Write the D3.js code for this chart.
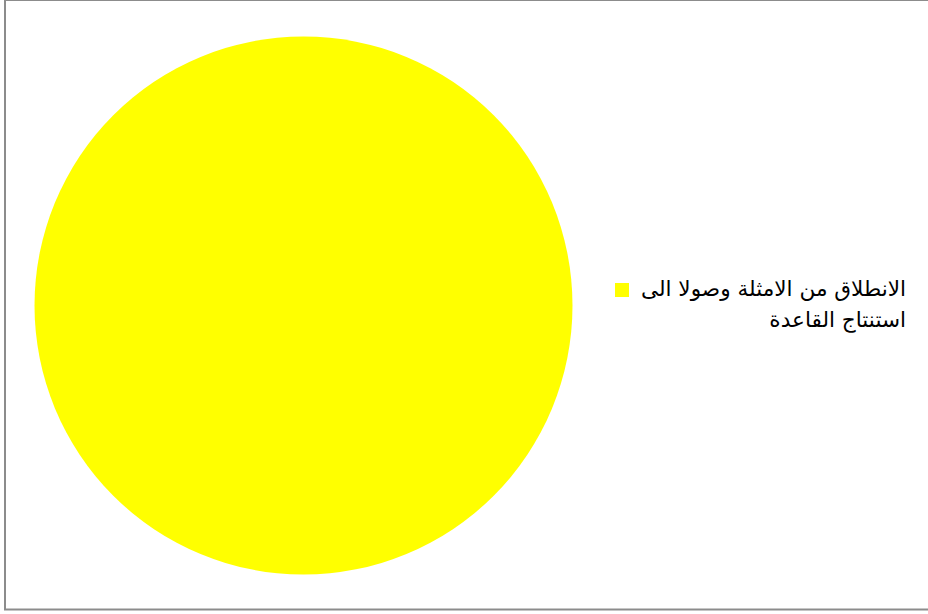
<!DOCTYPE html>
<html>
<head>
<meta charset="utf-8">
<script src="https://cdn.jsdelivr.net/npm/d3@7"></script>
<style>
  html, body { margin: 0; padding: 0; background: #fff; }
  svg { display: block; }
</style>
</head>
<body>
<svg id="chart" width="928" height="614"></svg>
<script>
// Pie data: one category covering the whole pie
const categories = ["الانطلاق من الامثلة وصولا الى استنتاج القاعدة"];
const legendLines = [["الانطلاق من الامثلة وصولا الى", "استنتاج القاعدة"]];
const values = [100];
const colors = ["#ffff00"];

const svg = d3.select("#chart");

// Outer frame
svg.append("rect")
  .attr("x", 5).attr("y", 0)
  .attr("width", 940).attr("height", 609.5)
  .attr("fill", "none")
  .attr("stroke", "#8c8c8c")
  .attr("stroke-width", 2);

const cx = 303.5, cy = 305.5, radius = 269;

const pie = d3.pie().sort(null).value(d => d.value);
const arc = d3.arc().innerRadius(0).outerRadius(radius);
const color = d3.scaleOrdinal().domain(categories).range(colors);

const data = categories.map((c, i) => ({ name: c, value: values[i] }));

svg.append("g")
  .attr("transform", `translate(${cx},${cy})`)
  .selectAll("path")
  .data(pie(data))
  .join("path")
  .attr("d", arc)
  .attr("fill", d => color(d.data.name));

// Legend
const item = svg.append("g")
  .selectAll("g")
  .data(data)
  .join("g");

item.append("rect")
  .attr("x", 615).attr("y", 283)
  .attr("width", 14).attr("height", 14)
  .attr("fill", d => color(d.name));

item.append("text")
  .attr("x", 906)
  .attr("y", 296)
  .attr("direction", "rtl")
  .attr("text-anchor", "start")
  .attr("font-family", "DejaVu Sans, sans-serif")
  .attr("font-size", 21.6)
  .attr("fill", "#000")
  .selectAll("tspan")
  .data((d, i) => legendLines[i])
  .join("tspan")
  .attr("x", 906)
  .attr("dy", (d, i) => i === 0 ? 0 : 31)
  .text(d => d);
</script>
</body>
</html>
